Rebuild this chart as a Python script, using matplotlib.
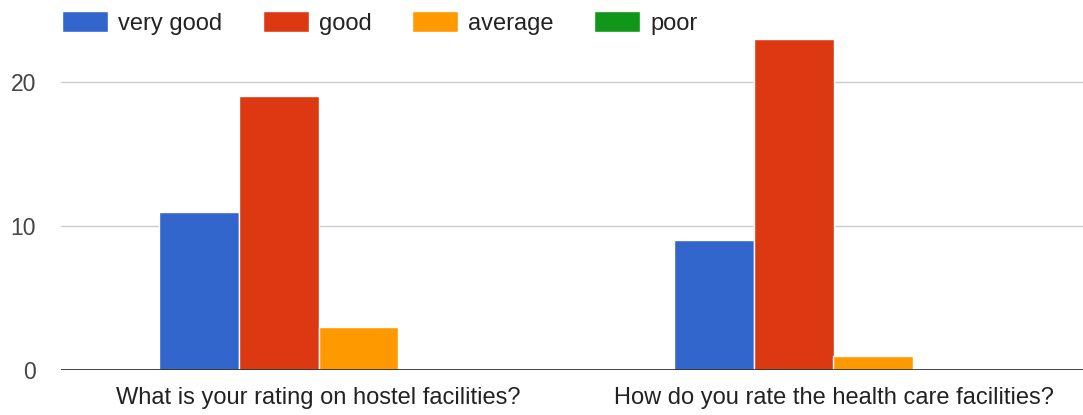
import numpy as np
import matplotlib
matplotlib.use("Agg")
import matplotlib.pyplot as plt

# data
questions = ["What is your rating on hostel facilities?",
             "How do you rate the health care facilities?"]
ratings = ["very good", "good", "average", "poor"]
very_good = [11, 9]
good = [19, 23]
average = [3, 1]
poor = [0, 0]

colors = ["#3366cc", "#dc3912", "#ff9900", "#109618"]

plt.rcParams["font.family"] = ["Liberation Sans", "DejaVu Sans"]

fig = plt.figure(figsize=(10.83, 4.15), dpi=100)
ax = fig.add_axes([61 / 1083, 45 / 415, 1030 / 1083, 360 / 415])

x = np.arange(len(questions))
width = 0.155
series = [very_good, good, average, poor]
for i, (vals, name, c) in enumerate(zip(series, ratings, colors)):
    ax.bar(x + (i - 1.5) * width, vals, width, color=c, label=name,
           edgecolor="white", linewidth=1, zorder=3)

ax.set_xlim(-0.5, 1.5)
ax.set_ylim(0, 25)
ax.set_yticks([0, 10, 20])
ax.set_xticks(x)
ax.set_xticklabels(questions, fontsize=17, color="#222222")
ax.tick_params(axis="y", labelsize=16.5, labelcolor="#444444", length=0, pad=18)
ax.tick_params(axis="x", length=0, pad=12)

ax.grid(axis="y", color="#cccccc", linewidth=1, zorder=0)
ax.axhline(0, color="#333333", linewidth=2, zorder=4)
for s in ax.spines.values():
    s.set_visible(False)

fig.legend(loc="upper left", bbox_to_anchor=(49 / 1083, 1.005), ncol=4,
           frameon=False, fontsize=17, handlelength=1.95, handleheight=1.0,
           handletextpad=0.42, columnspacing=1.72, borderaxespad=0.15,
           labelcolor="#222222")

plt.savefig("out.png", dpi=100)
